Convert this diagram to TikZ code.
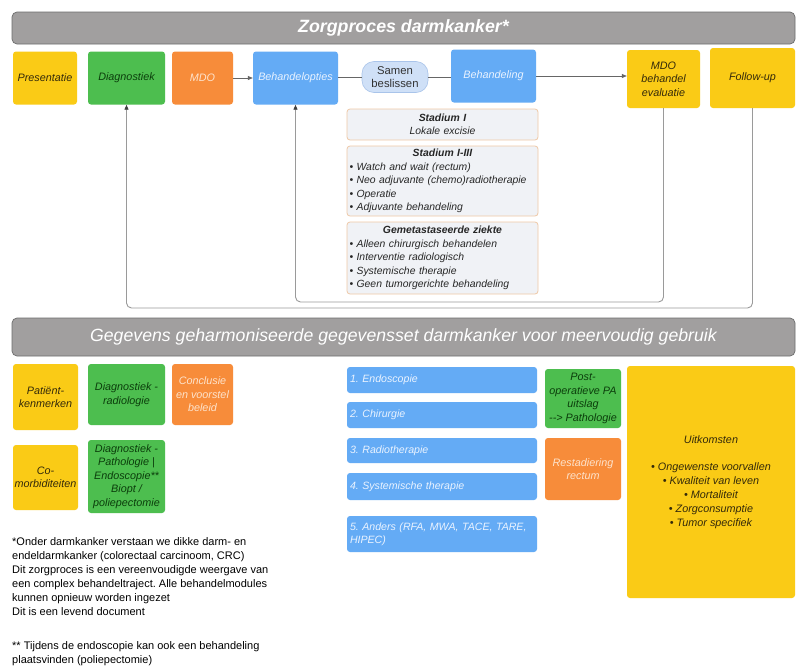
\documentclass[tikz,border=0pt]{standalone}
\usepackage{fontspec}
\setmainfont{Liberation Sans}
\usetikzlibrary{arrows.meta}
\definecolor{cyel}{HTML}{FACB16}
\definecolor{cgreen}{HTML}{4DBE4F}
\definecolor{corange}{HTML}{F78C3A}
\definecolor{cblue}{HTML}{64ABF5}
\definecolor{cpill}{HTML}{CFE0F7}
\definecolor{cpillb}{HTML}{A9C4EA}
\definecolor{cstage}{HTML}{F0F2F6}
\definecolor{cstageb}{HTML}{EFC8A6}
\definecolor{cbar}{HTML}{A19F9F}
\definecolor{cbarb}{HTML}{6D6D6D}
\definecolor{tyel}{HTML}{33290A}
\definecolor{tgreen}{HTML}{0B3D0B}
\definecolor{tor}{HTML}{FDE3CC}
\definecolor{tblue}{HTML}{EAF3FF}
\definecolor{cline}{HTML}{9A9A9A}
\frenchspacing
\begin{document}
\begin{tikzpicture}[x=1pt,y=-1pt,
  every node/.style={inner sep=0pt},
  boxbase/.style={rounded corners=3pt, align=center, font=\fontsize{10.8}{13.5}\selectfont\itshape},
  ybox/.style={boxbase, fill=cyel, text=tyel},
  gbox/.style={boxbase, fill=cgreen, text=tgreen},
  obox/.style={boxbase, fill=corange, text=tor},
  bbox/.style={boxbase, fill=cblue, text=tblue},
  lbox/.style={rounded corners=3pt, fill=cblue, text=tblue, font=\fontsize{10.6}{13}\selectfont\itshape, align=left, text width=184pt, inner xsep=3pt, minimum width=190pt},
  pill/.style={rounded corners=12pt, fill=cpill, draw=cpillb, line width=0.6pt, align=center, font=\fontsize{11.3}{13.5}\selectfont, text=black!80},
  stagebox/.style={rounded corners=3pt, fill=cstage, draw=cstageb, line width=0.8pt, font=\fontsize{10.4}{13.5}\selectfont\itshape, text=black!85, text width=186pt, align=left, minimum width=191pt},
  bar/.style={rounded corners=5pt, fill=cbar, draw=cbarb, line width=0.7pt, minimum width=783pt, text=white},
  conn/.style={draw=black!60, line width=0.7pt},
  arr/.style={conn, -{Triangle[length=5pt,width=4pt]}},
  loop/.style={draw=cline, line width=0.9pt, rounded corners=5pt, -{Triangle[length=5pt,width=4pt,color=black!75]}},
  note/.style={font=\fontsize{11}{14}\selectfont, text=black, align=left, anchor=north west}
]
\useasboundingbox (0,0) rectangle (796,667);
\fill[white] (0,0) rectangle (796,667);

% title bars
\node[bar, minimum height=32pt, font=\fontsize{17.8}{20}\selectfont\bfseries\itshape] (title) at (403.5,28) {Zorgproces darmkanker*};
\node[bar, minimum height=38pt, font=\fontsize{17.7}{20}\selectfont\itshape] (title2) at (403.5,337) {Gegevens geharmoniseerde gegevensset darmkanker voor meervoudig gebruik};

% row 1
\node[ybox, minimum width=64pt, minimum height=53pt] (pres) at (45,78) {Presentatie};
\node[gbox, minimum width=77pt, minimum height=53pt] (diag) at (126.5,78) {Diagnostiek};
\node[obox, minimum width=61pt, minimum height=53pt] (mdo) at (202.5,78) {MDO};
\node[bbox, minimum width=85pt, minimum height=53pt] (opt) at (295.5,78) {Behandelopties};
\node[pill, minimum width=66pt, minimum height=31pt] (samen) at (395,77) {Samen\\beslissen};
\node[bbox, minimum width=85pt, minimum height=53pt] (beh) at (493.5,76) {Behandeling};
\node[ybox, minimum width=73pt, minimum height=58pt] (eval) at (663.5,79) {MDO\\behandel\\evaluatie};
\node[ybox, minimum width=85pt, minimum height=60pt] (fu) at (752.5,78) {Follow-up};

\draw[arr] (mdo.east) -- (opt.west);
\draw[conn] (opt.east |- samen.west) -- (samen.west);
\draw[conn] (samen.east) -- (samen.east -| beh.west);
\draw[arr] (beh.east) -- (eval.west |- beh.east);

% stages
\node[stagebox, minimum height=31pt] (st1) at (442.5,124.5) {\makebox[\linewidth][c]{\bfseries Stadium I}\\\makebox[\linewidth][c]{Lokale excisie}};
\node[stagebox, minimum height=70pt] (st2) at (442.5,181) {\makebox[\linewidth][c]{\bfseries Stadium I-III}\\
• Watch and wait (rectum)\\
• Neo adjuvante (chemo)radiotherapie\\
• Operatie\\
• Adjuvante behandeling};
\node[stagebox, minimum height=72pt] (st3) at (442.5,258) {\makebox[\linewidth][c]{\bfseries Gemetastaseerde ziekte}\\
• Alleen chirurgisch behandelen\\
• Interventie radiologisch\\
• Systemische therapie\\
• Geen tumorgerichte behandeling};

% feedback loops
\draw[loop] (eval.south) -- (eval.south |- 0,302) -- (opt.south |- 0,302) -- (opt.south);
\draw[loop] (fu.south) -- (fu.south |- 0,308) -- (diag.south |- 0,308) -- (diag.south);

% bottom section
\node[ybox, minimum width=65pt, minimum height=66pt] (pat) at (45.5,397) {Patiënt-\\kenmerken};
\node[gbox, minimum width=77pt, minimum height=61pt] (drad) at (126.5,394.5) {Diagnostiek -\\radiologie};
\node[obox, minimum width=61pt, minimum height=61pt] (concl) at (202.5,394.5) {Conclusie\\en voorstel\\beleid};
\node[ybox, minimum width=65pt, minimum height=65pt] (como) at (45.5,477.5) {Co-\\morbiditeiten};
\node[gbox, minimum width=77pt, minimum height=73pt] (dpath) at (126.5,476.5) {Diagnostiek -\\Pathologie |\\Endoscopie**\\Biopt /\\poliepectomie};

\node[lbox, minimum height=26pt] (l1) at (442,380) {1. Endoscopie};
\node[lbox, minimum height=26pt] (l2) at (442,415) {2. Chirurgie};
\node[lbox, minimum height=25pt] (l3) at (442,450.5) {3. Radiotherapie};
\node[lbox, minimum height=27pt] (l4) at (442,486.5) {4. Systemische therapie};
\node[lbox, minimum height=36pt] (l5) at (442,534) {5. Anders (RFA, MWA, TACE, TARE,\\HIPEC)};

\node[gbox, minimum width=76pt, minimum height=59pt] (post) at (583,398.5) {Post-\\operatieve PA\\uitslag\\-{}-> Pathologie};
\node[obox, minimum width=76pt, minimum height=62pt] (rest) at (583,469) {Restadiering\\rectum};

\node[ybox, minimum width=168pt, minimum height=232pt, font=\fontsize{10.8}{13.8}\selectfont\itshape] (uit) at (711,482) {Uitkomsten\\[13.8pt]
• Ongewenste voorvallen\\
• Kwaliteit van leven\\
• Mortaliteit\\
• Zorgconsumptie\\
• Tumor specifiek};

% footnote
\node[note] (fn) at (12,537) {*Onder darmkanker verstaan we dikke darm- en\\
endeldarmkanker (colorectaal carcinoom, CRC)\\
Dit zorgproces is een vereenvoudigde weergave van\\
een complex behandeltraject. Alle behandelmodules\\
kunnen opnieuw worden ingezet\\
Dit is een levend document\\[20pt]
** Tijdens de endoscopie kan ook een behandeling\\
plaatsvinden (poliepectomie)};
\end{tikzpicture}
\end{document}
